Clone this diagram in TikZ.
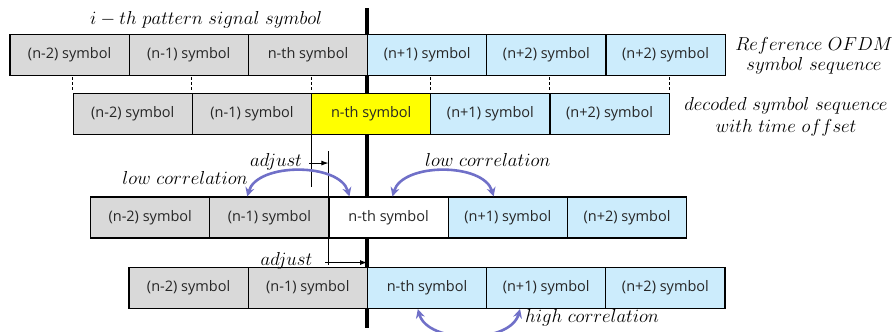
\RequirePackage{fix-cm}
\documentclass[tikz,border=0pt]{standalone}
\usepackage{fontspec}
\newfontfamily\boxfont{Open Sans}
\usetikzlibrary{arrows.meta,calc}
\definecolor{gr}{RGB}{217,217,217}
\definecolor{bl}{RGB}{204,236,252}
\definecolor{ye}{RGB}{255,255,0}
\definecolor{pu}{RGB}{112,112,200}
\begin{document}
\begin{tikzpicture}[x=1pt,y=-1pt,
  sym/.style={draw=black, line width=1.1pt, minimum width=119.2pt, minimum height=41pt,
    inner sep=0pt, font=\boxfont\fontsize{14.5}{17}\selectfont, text=black!85},
  gbox/.style={sym, fill=gr},
  bbox/.style={sym, fill=bl},
  ybox/.style={sym, fill=ye},
  wbox/.style={sym, fill=white},
  lbl/.style={font=\fontsize{18.8}{22}\selectfont, inner sep=0pt, align=center},
  corr/.style={draw=pu, line width=2.6pt,
    {Stealth[length=9pt,width=9pt]}-{Stealth[length=9pt,width=9pt]}},
  tickline/.style={line width=0.8pt, dash pattern=on 3pt off 2pt},
  thinline/.style={line width=0.9pt},
  adj/.style={line width=0.9pt, -{Latex[length=7pt,width=5pt]}}]
\useasboundingbox (0,0) rectangle (892,332);

% thick reference line (behind the boxes)
\coordinate (T1) at (367,8);
\coordinate (T2) at (367,328);
\draw[line width=4pt] (T1) -- (T2);

% Row 1: reference sequence
\node[gbox] (r1a) at (69.6,55) {(n-2) symbol};
\node[gbox] (r1b) at (188.8,55) {(n-1) symbol};
\node[gbox] (r1c) at (308,55) {n-th symbol};
\node[bbox] (r1d) at (427.2,55) {(n+1) symbol};
\node[bbox] (r1e) at (546.4,55) {(n+2) symbol};
\node[bbox] (r1f) at (665.6,55) {(n+2) symbol};

% Row 2: decoded with offset
\node[gbox] (r2a) at (132.8,114) {(n-2) symbol};
\node[gbox] (r2b) at (252,114) {(n-1) symbol};
\node[ybox] (r2c) at (371.2,114) {n-th symbol};
\node[bbox] (r2d) at (490.4,114) {(n+1) symbol};
\node[bbox] (r2e) at (609.6,114) {(n+2) symbol};

% Row 3
\node[gbox] (r3a) at (150.2,217.5) {(n-2) symbol};
\node[gbox] (r3b) at (269.4,217.5) {(n-1) symbol};
\node[wbox] (r3c) at (388.6,217.5) {n-th symbol};
\node[bbox] (r3d) at (507.8,217.5) {(n+1) symbol};
\node[bbox] (r3e) at (627,217.5) {(n+2) symbol};

% Row 4
\node[gbox] (r4a) at (188.6,288) {(n-2) symbol};
\node[gbox] (r4b) at (307.8,288) {(n-1) symbol};
\node[bbox] (r4c) at (427,288) {n-th symbol};
\node[bbox] (r4d) at (546.2,288) {(n+1) symbol};
\node[bbox] (r4e) at (665.4,288) {(n+2) symbol};

% dashed ticks at row-2 boundaries
\foreach \n in {r2a,r2b,r2c,r2d,r2e}{
  \draw[tickline] ($(\n.north west)+(0,-3)$) -- ++(0,-13);
}
\draw[tickline] ($(r2e.north east)+(0,-3)$) -- ++(0,-13);

% adjust 1
\coordinate (a1) at ($(r2c.south west)+(0,52)$);
\draw[thinline] (r2c.south west) -- (a1);
\coordinate (a2) at ($(r3c.north west)+(0,-45)$);
\draw[thinline] (r3c.north west) -- (a2);
\coordinate (p1) at ($(r2c.south west)+(-2,28)$);
\draw[adj] (p1) -- (p1 -| r3c.north west);
\node[lbl, anchor=east] (adj1) at ($(p1)+(-7,-1)$) {$adjust$};

% adjust 2
\coordinate (a3) at ($(r3c.south west)+(0,26)$);
\draw[thinline] (r3c.south west) -- (a3);
\coordinate (p2) at ($(r3c.south west)+(-3,24)$);
\draw[adj] (p2) -- (p2 -| T1);
\node[lbl, anchor=east] (adj2) at ($(p2)+(-13,-2)$) {$adjust$};

% correlation arcs
\coordinate (c1) at ($(r3b.north west)+(38,0)$);
\coordinate (c2) at ($(r3c.north west)+(21,0)$);
\draw[corr] (c1) .. controls +(10,-34) and +(-10,-34) .. (c2);
\coordinate (c3) at ($(r3c.north west)+(64,0)$);
\coordinate (c4) at ($(r3d.north west)+(46,0)$);
\draw[corr] (c3) .. controls +(10,-34) and +(-10,-34) .. (c4);
\coordinate (c5) at ($(r4c.south west)+(51,0)$);
\coordinate (c6) at ($(r4d.south west)+(34,0)$);
\draw[corr] (c5) .. controls +(10,35) and +(-10,35) .. (c6);

% labels
\node[lbl, anchor=west] (ith) at (90,20) {$i-th\ pattern\ signal\ symbol$};
\node[lbl] (refl) at (814,56) {$Reference\ OFDM$\\[-2pt]$symbol\ sequence$};
\node[lbl] (decl) at (786,117) {$decoded\ symbol\ sequence$\\[0pt]$with\ time\ offset$};
\node[lbl, anchor=east] (lc1) at (248,178) {$low\ correlation$};
\node[lbl, anchor=west] (lc2) at (425,160) {$low\ correlation$};
\node[lbl, anchor=west] (hc) at (525,318) {$high\ correlation$};
\end{tikzpicture}
\end{document}
